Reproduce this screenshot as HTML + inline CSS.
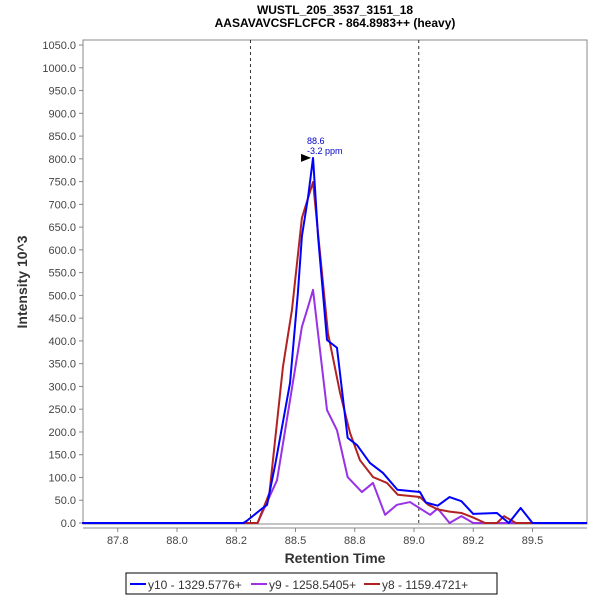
<!DOCTYPE html>
<html><head><meta charset="utf-8"><style>
body{margin:0;background:#fff;font-family:"Liberation Sans",sans-serif;}
</style></head><body>
<svg id="chart" width="600" height="600" xmlns="http://www.w3.org/2000/svg" font-family="Liberation Sans, sans-serif">
<text x="335" y="14" text-anchor="middle" font-size="12" font-weight="bold">WUSTL_205_3537_3151_18</text>
<text x="335" y="27" text-anchor="middle" font-size="12" font-weight="bold">AASAVAVCSFLCFCR - 864.8983++ (heavy)</text>
<rect x="83" y="40" width="504" height="484" fill="#fff" stroke="#888"/>
<g id="yaxis"></g><g id="xaxis"></g><g id="series"></g>
<text transform="translate(27,282) rotate(-90)" text-anchor="middle" font-size="14" font-weight="bold" fill="#333">Intensity 10^3</text>
<text x="335" y="563" text-anchor="middle" font-size="14" font-weight="bold" fill="#333">Retention Time</text>
<g>
<rect x="126" y="573" width="371" height="21" fill="#fff" stroke="#000"/>
<line x1="130" y1="584" x2="146" y2="584" stroke="#0000ff" stroke-width="2"/>
<text x="148" y="589" font-size="12" fill="#333">y10 - 1329.5776+</text>
<line x1="251" y1="584" x2="267" y2="584" stroke="#9932e6" stroke-width="2"/>
<text x="269" y="589" font-size="12" fill="#333">y9 - 1258.5405+</text>
<line x1="364" y1="584" x2="380" y2="584" stroke="#b22222" stroke-width="2"/>
<text x="382" y="589" font-size="12" fill="#333">y8 - 1159.4721+</text>
</g>
</svg>
<script>
const yTicks=[0,50,100,150,200,250,300,350,400,450,500,550,600,650,700,750,800,850,900,950,1000,1050];
const xTicks=[87.75,88.0,88.25,88.5,88.75,89.0,89.25,89.5];
const xTickLabels=["87.8","88.0","88.2","88.5","88.8","89.0","89.2","89.5"];
const markers=[88.31,89.02];
const rtBlue=[87.6,88.28,88.295,88.35,88.38,88.415,88.477,88.51,88.527,88.553,88.574,88.595,88.633,88.675,88.72,88.76,88.814,88.869,88.93,89.025,89.05,89.1,89.15,89.2,89.25,89.35,89.4,89.45,89.5,89.73];
const valBlue=[0,0,5,28,40,130,308,505,630,716,802,630,402,385,187,171,132,110,73,68,45,38,57,48,20,22,0,33,0,0];
const rtRed=[87.6,88.34,88.39,88.447,88.485,88.527,88.553,88.574,88.595,88.637,88.688,88.73,88.772,88.827,88.886,88.932,89.025,89.06,89.1,89.15,89.2,89.25,89.3,89.35,89.38,89.43,89.73];
const valRed=[0,0,66,343,468,670,714,749,637,417,286,198,138,101,88,62,57,40,30,25,22,12,0,0,15,0,0];
const rtPurple=[87.6,88.34,88.422,88.477,88.527,88.553,88.574,88.595,88.633,88.675,88.72,88.78,88.827,88.878,88.928,88.983,89.068,89.1,89.15,89.2,89.25,89.73];
const valPurple=[0,0,94,270,431,475,512,417,248,204,101,68,88,18,40,46,18,32,0,15,0,0];
const X=v=>177+(v-88.0)*237;
const Y=v=>523-v*0.4552;
const NS="http://www.w3.org/2000/svg";
function mk(tag,attrs,parent,txt){const e=document.createElementNS(NS,tag);for(const k in attrs)e.setAttribute(k,attrs[k]);if(txt!==undefined)e.textContent=txt;parent.appendChild(e);return e;}
const ya=document.getElementById('yaxis');
yTicks.forEach(t=>{
 const l=mk('line',{x1:79,x2:83,y1:Y(t),y2:Y(t),stroke:'#888'},ya);
 
 
 const tx=mk('text',{x:76,y:Y(t)+4,'text-anchor':'end','font-size':11,fill:'#444'},ya,t.toFixed(1));
 
 
});
const xa=document.getElementById('xaxis');
const al=mk('line',{x1:83,x2:587,y1:528,y2:528,stroke:'#888'},xa);


xTicks.forEach((t,i)=>{
 const l=mk('line',{x1:X(t),x2:X(t),y1:528,y2:532,stroke:'#888'},xa);
 
 
 const tx=mk('text',{x:X(t),y:544,'text-anchor':'middle','font-size':11,fill:'#444'},xa,xTickLabels[i]);
 
 
});
const sg=document.getElementById('series');
markers.forEach(m=>{
 const l=mk('line',{x1:X(m),x2:X(m),y1:40,y2:524,stroke:'#333','stroke-dasharray':'3,3'},sg);
 
 
});
function series(rt,val,color,name){
 const p=mk('polyline',{points:rt.map((r,i)=>X(r)+','+Y(val[i])).join(' '),fill:'none',stroke:color,'stroke-width':2,'stroke-linejoin':'round'},sg);
 
 
}
series(rtPurple,valPurple,'#9932e6','series-y9');
series(rtRed,valRed,'#b22222','series-y8');
series(rtBlue,valBlue,'#0000ff','series-y10');
const pk=valBlue.indexOf(Math.max(...valBlue));
const px=X(rtBlue[pk]),py=Y(valBlue[pk]);
const ar=mk('polygon',{points:`${px-2},${py} ${px-12},${py-4} ${px-12},${py+4}`,fill:'#000'},sg);


const a1=mk('text',{x:px-6,y:py-14,'font-size':9,fill:'#0000cc'},sg,'88.6');


const a2=mk('text',{x:px-6,y:py-4,'font-size':9,fill:'#0000cc'},sg,'-3.2 ppm');


</script>
</body></html>
